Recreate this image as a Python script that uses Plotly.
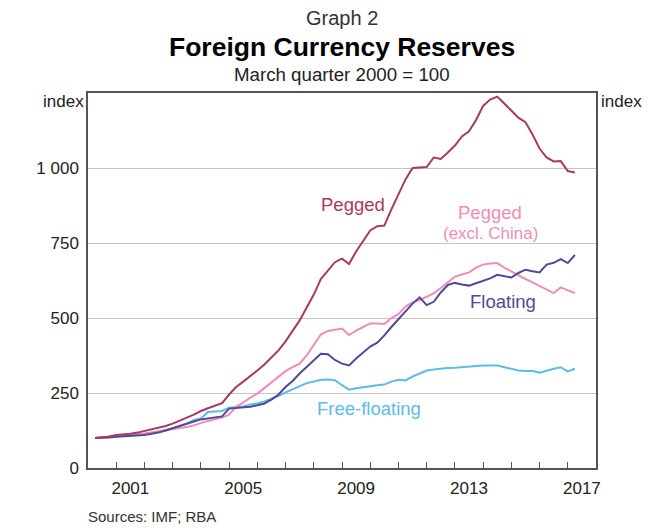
import pandas as pd
import plotly.graph_objects as go

# ---- data (quarterly, March quarter 2000 = 100) ----
quarters = [str(p) for p in pd.period_range("2000Q1", "2017Q1", freq="Q")]

pegged = [100, 102, 105,
          110, 111, 114, 118,
          123, 128, 134, 140,
          148, 157, 168, 178,
          190, 199, 208, 216,
          245, 270, 288, 305,
          325, 345, 368, 392,
          422, 455, 492, 535,
          578, 630, 660, 686,
          698, 680, 722, 757,
          792, 806, 808, 862,
          915, 962, 1000, 1001,
          1003, 1035, 1030, 1052,
          1075, 1105, 1122, 1160,
          1207, 1228, 1238, 1215,
          1190, 1168, 1153, 1112,
          1065, 1035, 1022, 1023,
          990, 985]

pegged_ex_china = [100, 101, 104,
                   108, 109, 111, 113,
                   115, 118, 121, 125,
                   130, 133, 137, 142,
                   150, 157, 162, 168,
                   178, 205, 218, 235,
                   248, 266, 284, 303,
                   323, 336, 348, 375,
                   408, 445, 457, 462,
                   465, 443, 458, 470,
                   482, 482, 480, 500,
                   513, 538, 552, 560,
                   570, 582, 600, 620,
                   638, 645, 652, 668,
                   678, 682, 683, 668,
                   655, 641, 630, 619,
                   607, 596, 583, 602,
                   592, 583]

floating = [100, 100, 102,
            104, 105, 107, 108,
            110, 114, 118, 125,
            133, 140, 148, 155,
            162, 166, 168, 172,
            198, 200, 201, 204,
            209, 215, 228, 245,
            270, 290, 315, 338,
            358, 381, 379, 360,
            348, 342, 365, 385,
            405, 418, 442, 470,
            495, 520, 548, 569,
            543, 554, 585, 610,
            617, 612, 608, 616,
            624, 632, 644, 640,
            635, 650, 661, 656,
            652, 678, 684, 696,
            683, 710]

free_floating = [100, 101, 103,
                 106, 107, 109, 111,
                 113, 117, 122, 127,
                 133, 140, 148, 160,
                 165, 187, 188, 190,
                 201, 202, 205, 212,
                 215, 222, 231, 240,
                 252, 262, 272, 283,
                 288, 294, 295, 293,
                 276, 261, 266, 270,
                 274, 276, 278, 288,
                 294, 292, 305, 314,
                 325, 328, 331, 333,
                 334, 336, 338, 342,
                 342, 342, 342, 336,
                 331, 325, 323, 323,
                 318, 325, 331, 336,
                 322, 331]

year_labels = ["2001", "2005", "2009", "2013", "2017"]
y_ticks = [0, 250, 500, 750, 1000]
y_ticktext = ["0", "250", "500", "750", "1 000"]

# quarter-end positions in decimal years
x = [int(q[:4]) + int(q[-1]) / 4 for q in quarters]

C_PEG = "#A83A60"
C_PEGX = "#F08DB6"
C_FLOAT = "#4F4A98"
C_FREE = "#5DBBE6"
FONT = "Liberation Sans, Arial, sans-serif"

fig = go.Figure()
for vals, col, name in [(free_floating, C_FREE, "Free-floating"),
                        (pegged_ex_china, C_PEGX, "Pegged (excl. China)"),
                        (floating, C_FLOAT, "Floating"),
                        (pegged, C_PEG, "Pegged")]:
    fig.add_trace(go.Scatter(x=x, y=vals, mode="lines", name=name,
                             line=dict(color=col, width=2), showlegend=False))

axis_col = "#555555"
# page has an 8px body margin, so the figure is 8px smaller each way
fig.update_layout(
    width=642, height=522,
    margin=dict(l=80, r=54, t=85, b=62),
    paper_bgcolor="white", plot_bgcolor="white",
    font=dict(family=FONT, size=16, color="#222222"),
    xaxis=dict(
        range=[2000, 2018],
        tickmode="array",
        tickvals=[int(y) + 0.5 for y in year_labels],
        ticktext=year_labels,
        ticks="", showgrid=False, zeroline=False,
        showline=True, linecolor=axis_col, linewidth=1.5, mirror=True,
        tickfont=dict(size=17),
        ticklabelstandoff=4,
        minor=dict(tickmode="array", tickvals=list(range(2001, 2018)),
                   ticks="inside", ticklen=6, tickwidth=1.2,
                   tickcolor=axis_col, showgrid=False),
    ),
    yaxis=dict(
        range=[0, 1250],
        tickmode="array", tickvals=y_ticks, ticktext=y_ticktext,
        ticks="", showgrid=True, gridcolor="#C4C4C4", gridwidth=1,
        zeroline=False,
        showline=True, linecolor=axis_col, linewidth=1.5, mirror=True,
        tickfont=dict(size=17),
        ticklabelstandoff=4,
    ),
    yaxis2=dict(
        range=[0, 1250], overlaying="y", side="right", anchor="x",
        tickmode="array", tickvals=y_ticks, ticktext=y_ticktext,
        ticks="", showgrid=False, zeroline=False, showline=False,
        tickfont=dict(size=17),
        ticklabelstandoff=4,
    ),
)

# pixel helpers (page pixels) for paper-positioned text
def px(xp):
    return (xp - 88) / 508.0

def py(yp):
    return (468 - yp) / 375.0

def note(text, xp, yp, size, color="#222222", xanchor="center"):
    return dict(text=text, x=px(xp), y=py(yp), xref="paper", yref="paper",
                xanchor=xanchor, yanchor="middle", showarrow=False,
                font=dict(size=size, color=color))

def label(text, xv, yv, size, color):
    return dict(text=text, x=xv, y=yv, xref="x", yref="y",
                xanchor="center", yanchor="middle", showarrow=False,
                font=dict(size=size, color=color))

ann = [
    note("Graph 2", 342, 18, 20, "#333333"),
    note("<b>Foreign Currency Reserves</b>", 342, 47, 26.5, "#000000"),
    note("March quarter 2000 = 100", 342, 74, 18.7, "#222222"),
    note("index", 86, 101, 17, "#222222", "right"),
    note("index", 599, 101, 17, "#222222", "left"),
    note("Sources: IMF; RBA", 86, 516, 15, "#333333", "left"),
    label("Pegged", 2009.4, 879, 18.5, C_PEG),
    label("Pegged", 2014.25, 852, 18.5, C_PEGX),
    label("(excl. China)", 2014.25, 783, 17, C_PEGX),
    label("Floating", 2014.7, 556, 18.5, C_FLOAT),
    label("Free-floating", 2009.95, 198, 18.5, C_FREE),
]

fig.update_layout(annotations=ann)
fig.write_html("out.html")
